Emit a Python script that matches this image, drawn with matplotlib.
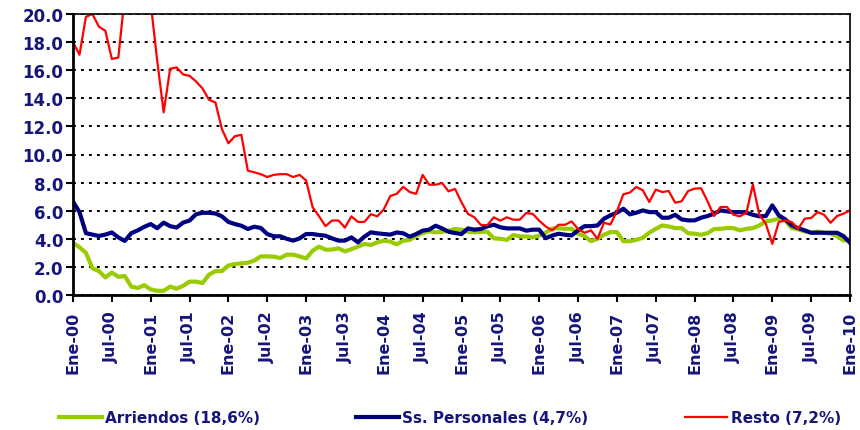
"""Variación anual de precios: arriendos, servicios personales y resto (Ene-00 a Ene-10)."""

import matplotlib
matplotlib.use("Agg")

import matplotlib.pyplot as plt
import numpy as np

# ── datos mensuales, Ene-00 .. Ene-10 ─────────────────────

arriendos = [
    3.7, 3.4, 3.0, 1.9, 1.7, 1.25, 1.6, 1.3, 1.35, 0.6, 0.5, 0.7,
    0.4, 0.3, 0.3, 0.6, 0.45, 0.65, 0.95, 0.95, 0.85, 1.45, 1.7, 1.7,
    2.1, 2.2, 2.25, 2.3, 2.45, 2.75, 2.75, 2.73, 2.63, 2.87, 2.87, 2.75,
    2.6, 3.15, 3.44, 3.23, 3.23, 3.32, 3.1, 3.27, 3.44, 3.63, 3.56, 3.75,
    3.87, 3.8, 3.6, 3.87, 3.92, 4.22, 4.41, 4.53, 4.46, 4.5, 4.58, 4.7,
    4.65, 4.5, 4.46, 4.5, 4.5, 4.03, 4.0, 3.92, 4.27, 4.17, 4.17, 4.1,
    4.22, 4.44, 4.73, 4.76, 4.71, 4.71, 4.36, 4.19, 3.83, 4.0, 4.29, 4.48,
    4.48, 3.83, 3.83, 3.93, 4.07, 4.43, 4.71, 4.95, 4.88, 4.76, 4.76, 4.4,
    4.36, 4.29, 4.4, 4.69, 4.71, 4.76, 4.76, 4.6, 4.71, 4.76, 4.95, 5.24,
    5.31, 5.43, 5.31, 4.76, 4.67, 4.52, 4.43, 4.52, 4.43, 4.36, 4.19, 3.88,
    4.0,
]

ss_personales = [
    6.65, 5.9, 4.4, 4.3, 4.2, 4.3, 4.45, 4.1, 3.85, 4.4, 4.6, 4.85,
    5.05, 4.75, 5.15, 4.9, 4.8, 5.15, 5.3, 5.75, 5.85, 5.85, 5.8, 5.6,
    5.2, 5.05, 4.93, 4.7, 4.86, 4.77, 4.34, 4.18, 4.18, 4.0, 3.87, 4.03,
    4.34, 4.34, 4.27, 4.22, 4.03, 3.87, 3.87, 4.1, 3.75, 4.15, 4.46, 4.39,
    4.34, 4.3, 4.45, 4.39, 4.15, 4.34, 4.58, 4.65, 4.93, 4.74, 4.5, 4.41,
    4.34, 4.74, 4.65, 4.7, 4.89, 5.0, 4.82, 4.74, 4.74, 4.74, 4.58, 4.65,
    4.65, 4.04, 4.23, 4.36, 4.29, 4.24, 4.6, 4.9, 4.9, 4.95, 5.43, 5.67,
    5.86, 6.14, 5.74, 5.86, 6.02, 5.9, 5.9, 5.5, 5.5, 5.71, 5.38, 5.31,
    5.31, 5.5, 5.62, 5.79, 6.02, 5.95, 5.9, 5.9, 5.86, 5.71, 5.6, 5.62,
    6.38, 5.67, 5.38, 4.95, 4.76, 4.6, 4.43, 4.43, 4.43, 4.43, 4.43, 4.19,
    3.71,
]

# los meses 8-12 superan el techo del eje (20) y quedan recortados
resto = [
    18.0, 17.1, 19.8, 20.0, 19.1, 18.8, 16.8, 16.9, 21.3, 23.0, 24.0, 22.0,
    20.8, 16.7, 13.0, 16.1, 16.2, 15.7, 15.6, 15.2, 14.7, 13.9, 13.7, 11.8,
    10.8, 11.3, 11.4, 8.85, 8.73, 8.6, 8.4, 8.55, 8.6, 8.6, 8.4, 8.55,
    8.15, 6.25, 5.6, 4.9, 5.3, 5.3, 4.8, 5.6, 5.2, 5.2, 5.75, 5.6,
    6.1, 7.05, 7.2, 7.7, 7.33, 7.2, 8.55, 7.85, 7.85, 7.97, 7.38, 7.55,
    6.6, 5.77, 5.53, 4.98, 4.98, 5.53, 5.29, 5.53, 5.36, 5.36, 5.84, 5.77,
    5.29, 4.88, 4.6, 5.0, 5.0, 5.24, 4.7, 4.43, 4.6, 4.0, 5.14, 5.02,
    5.95, 7.17, 7.29, 7.69, 7.45, 6.62, 7.5, 7.33, 7.4, 6.57, 6.67, 7.4,
    7.57, 7.6, 6.67, 5.62, 6.26, 6.26, 5.71, 5.6, 5.86, 7.86, 5.71, 5.07,
    3.64, 5.19, 5.31, 5.19, 4.71, 5.43, 5.48, 5.9, 5.71, 5.14, 5.62, 5.79,
    6.02,
]

tick_labels = [
    "Ene-00", "Jul-00", "Ene-01", "Jul-01", "Ene-02", "Jul-02", "Ene-03",
    "Jul-03", "Ene-04", "Jul-04", "Ene-05", "Jul-05", "Ene-06", "Jul-06",
    "Ene-07", "Jul-07", "Ene-08", "Jul-08", "Ene-09", "Jul-09", "Ene-10",
]

NAVY_TEXT = "#16167a"

plt.rcParams["font.family"] = ["DejaVu Sans"]
plt.rcParams["font.weight"] = "bold"

months = np.arange(len(resto))

fig = plt.figure(figsize=(8.6, 4.31), dpi=100)
ax = fig.add_axes([73 / 860, 1 - 296 / 431, 777 / 860, 281 / 431])

ax.plot(months, arriendos, color="#99cc00", lw=3.0, label="Arriendos (18,6%)",
        solid_joinstyle="round")
ax.plot(months, ss_personales, color="#000080", lw=3.0, label="Ss. Personales (4,7%)",
        solid_joinstyle="round")
ax.plot(months, resto, color="#ff0000", lw=1.6, label="Resto (7,2%)")

ax.set_xlim(0, len(resto) - 1)
ax.set_ylim(0, 20)

ax.set_yticks(np.arange(0, 21, 2))
ax.set_yticklabels([f"{v:.1f}" for v in np.arange(0, 21, 2)])
ax.set_xticks(np.arange(0, len(resto), 6))
ax.set_xticklabels(tick_labels, rotation=90)

ax.tick_params(axis="y", labelsize=12, labelcolor=NAVY_TEXT, length=5, width=1.5,
               direction="out", pad=2)
ax.tick_params(axis="x", labelsize=11.5, labelcolor=NAVY_TEXT, length=5, width=1.5,
               direction="out", pad=6)

ax.grid(axis="y", color="black", lw=1.4, linestyle=(0, (1.5, 2.6)))
ax.set_axisbelow(True)

for side in ("left", "bottom"):
    ax.spines[side].set_linewidth(2.0)
for side in ("top", "right"):
    ax.spines[side].set_linewidth(1.2)

leg = fig.legend(
    loc="center", bbox_to_anchor=(450 / 860, 1 - 419 / 431), ncol=3,
    frameon=False, fontsize=11, handlelength=2.8, handletextpad=0.2,
    columnspacing=6.3,
)
for text in leg.get_texts():
    text.set_color(NAVY_TEXT)

fig.savefig("out.png", dpi=100)
plt.close(fig)
